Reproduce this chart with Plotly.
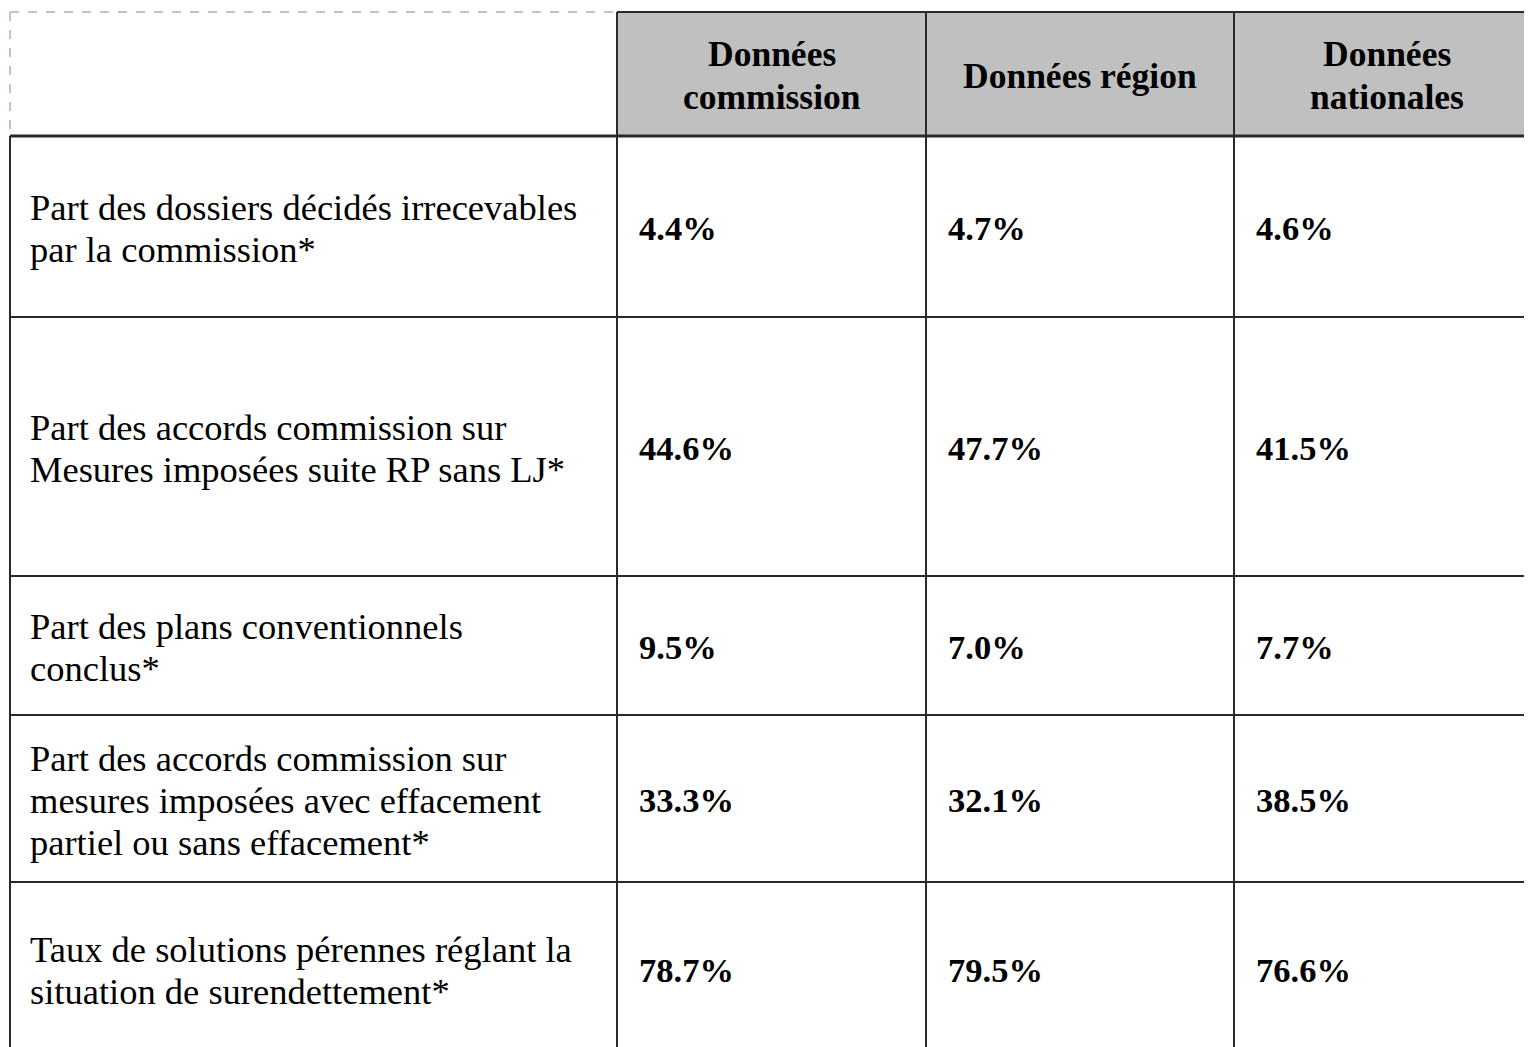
import plotly.graph_objects as go

# ---- data ----
headers = ["Données<br>commission", "Données région", "Données<br>nationales"]
row_labels = [
    "Part des dossiers décidés irrecevables<br>par la commission*",
    "Part des accords commission sur<br>Mesures imposées suite RP sans LJ*",
    "Part des plans conventionnels<br>conclus*",
    "Part des accords commission sur<br>mesures imposées avec effacement<br>partiel ou sans effacement*",
    "Taux de solutions pérennes réglant la<br>situation de surendettement*",
]
donnees_commission = [4.4, 44.6, 9.5, 33.3, 78.7]
donnees_region = [4.7, 47.7, 7.0, 32.1, 79.5]
donnees_nationales = [4.6, 41.5, 7.7, 38.5, 76.6]

# ---- layout constants ----
W, H = 1532, 1047
PAGE_MARGIN = 8  # default body margin of the html page
col_edges = [10, 617, 926, 1234, 1560]
row_edges = [12, 136, 317, 576, 715, 882, 1055]
LABEL_FONT = dict(family="Liberation Serif, Times New Roman, serif", size=36.5, color="#000")
VALUE_FONT = dict(family="Liberation Serif, Times New Roman, serif", size=34.5, color="#000")
HEAD_FONT = dict(family="Liberation Serif, Times New Roman, serif", size=35.5, color="#000")
LINE_COLOR = "#2a2a2a"

fig = go.Figure()
fig.add_trace(go.Scatter(x=[], y=[], hoverinfo="skip", showlegend=False))

shapes = []
annotations = []

def add_lines(text, x, yc, spacing, font, xanchor):
    parts = text.split("<br>")
    n = len(parts)
    for i, p in enumerate(parts):
        y = yc + (i - (n - 1) / 2) * spacing
        annotations.append(dict(x=x, y=y, xref="x", yref="y", text=p, showarrow=False,
                                xanchor=xanchor, yanchor="middle", font=font,
                                borderpad=0))

# header fill
shapes.append(dict(type="rect", x0=col_edges[1], x1=col_edges[-1], y0=row_edges[0], y1=row_edges[1],
                   fillcolor="#C0C0C0", line=dict(width=0), layer="below"))
# dashed outline of the empty top-left cell
shapes.append(dict(type="line", x0=col_edges[0], x1=col_edges[1], y0=row_edges[0], y1=row_edges[0],
                   line=dict(color="#9DB3CE", width=1.5, dash="dash")))
shapes.append(dict(type="line", x0=col_edges[0], x1=col_edges[0], y0=row_edges[0], y1=row_edges[1],
                   line=dict(color="#9DB3CE", width=1.5, dash="dash")))

# header top border
shapes.append(dict(type="line", x0=col_edges[1], x1=col_edges[-1], y0=row_edges[0], y1=row_edges[0],
                   line=dict(color=LINE_COLOR, width=2)))
# horizontal borders
for i, y in enumerate(row_edges[1:-1]):
    shapes.append(dict(type="line", x0=col_edges[0], x1=col_edges[-1], y0=y, y1=y,
                       line=dict(color=LINE_COLOR, width=3 if i == 0 else 2)))
# vertical borders
shapes.append(dict(type="line", x0=col_edges[0], x1=col_edges[0], y0=row_edges[1], y1=row_edges[-1],
                   line=dict(color=LINE_COLOR, width=2)))
for x in col_edges[1:-1]:
    shapes.append(dict(type="line", x0=x, x1=x, y0=row_edges[0], y1=row_edges[-1],
                       line=dict(color=LINE_COLOR, width=2)))

# header texts
for j, htxt in enumerate(headers):
    xc = (col_edges[j + 1] + min(col_edges[j + 2], 1540)) / 2
    add_lines("<b>" + htxt.replace("<br>", "</b><br><b>") + "</b>", xc,
              (row_edges[0] + row_edges[1]) / 2 + 1.5, 43, HEAD_FONT, "center")

# body
columns = [donnees_commission, donnees_region, donnees_nationales]
for i, label in enumerate(row_labels):
    yc = (row_edges[i + 1] + row_edges[i + 2]) / 2 + 1.5
    add_lines(label, col_edges[0] + 19, yc, 42, LABEL_FONT, "left")
    for j, col in enumerate(columns):
        add_lines(f"<b>{col[i]:.1f}%</b>", col_edges[j + 1] + 21, yc, 42, VALUE_FONT, "left")

fig.update_layout(
    width=W - PAGE_MARGIN, height=H - PAGE_MARGIN, margin=dict(l=0, r=0, t=0, b=0),
    paper_bgcolor="white", plot_bgcolor="white",
    xaxis=dict(range=[PAGE_MARGIN, W], visible=False, fixedrange=True),
    yaxis=dict(range=[H, PAGE_MARGIN], visible=False, fixedrange=True),
    shapes=shapes, annotations=annotations, showlegend=False,
)
fig.write_html("out.html", config={"displayModeBar": False})
